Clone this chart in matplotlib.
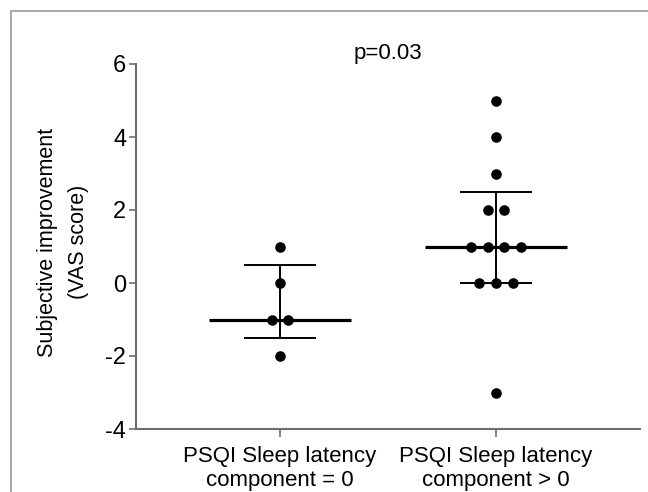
import numpy as np
import matplotlib.pyplot as plt
from matplotlib.lines import Line2D

plt.rcParams['font.family'] = ['Liberation Sans', 'DejaVu Sans']

# Data
groups = ['PSQI Sleep latency\ncomponent = 0', 'PSQI Sleep latency\ncomponent > 0']
latency_zero = [1, 0, -1, -1, -2]
latency_pos = [5, 4, 3, 2, 2, 1, 1, 1, 1, 0, 0, 0, -3]
p_label = 'p=0.03'
y_ticks = [-4, -2, 0, 2, 4, 6]


def swarm_x(values, center, step=0.077):
    # spread tied values side by side around the group center
    counts = {}
    for v in values:
        counts[v] = counts.get(v, 0) + 1
    seen = {}
    xs = []
    for v in values:
        k = counts[v]
        i = seen.get(v, 0)
        seen[v] = i + 1
        xs.append(center + (i - (k - 1) / 2) * step)
    return xs


fig = plt.figure(figsize=(6.48, 4.92), dpi=100)
ax = fig.add_axes([136 / 648, 1 - 429 / 492, 504 / 648, 365 / 492])

axis_gray = '#6e6e6e'
for pos, vals in zip([1, 2], [latency_zero, latency_pos]):
    med = np.median(vals)
    q1, q3 = np.percentile(vals, [25, 75], method='weibull')
    ax.hlines(med, pos - 0.331, pos + 0.331, color='black', lw=2.3, zorder=2)
    ax.vlines(pos, q1, q3, color='black', lw=1.4, zorder=2)
    ax.hlines([q1, q3], pos - 0.167, pos + 0.167, color='black', lw=1.4, zorder=2)
    ax.scatter(swarm_x(vals, pos), vals, s=58, color='black', linewidths=0, zorder=3)

ax.set_xlim(1 / 3, 8 / 3)
ax.set_ylim(-4, 6)
ax.set_yticks(y_ticks)
ax.set_yticklabels([str(t) for t in y_ticks])
ax.set_xticks([1, 2])
ax.set_xticklabels(groups, linespacing=1.2, fontsize=16)

for side in ['top', 'right']:
    ax.spines[side].set_visible(False)
for side in ['left', 'bottom']:
    ax.spines[side].set_color(axis_gray)
    ax.spines[side].set_linewidth(1.5)
ax.tick_params(axis='both', colors=axis_gray, labelcolor='black', width=1.2)
ax.tick_params(axis='y', length=5, pad=2, labelsize=17)
ax.tick_params(axis='x', length=6, pad=6)

ax.text(1.5, 6.3, p_label, ha='center', va='center', fontsize=16, clip_on=False)
fig.text(63 / 648, 1 - 242 / 492, 'Subjective improvement\n(VAS score)',
         rotation=90, ha='center', va='center', multialignment='center',
         fontsize=15.5, linespacing=1.6)

# light gray frame around the panel
frame_gray = '#a8a8a8'
fig.add_artist(Line2D([11 / 648, 11 / 648, 1], [0, 1 - 11 / 492, 1 - 11 / 492],
                      transform=fig.transFigure, color=frame_gray, lw=1.4))

fig.savefig('out.png', dpi=100)
